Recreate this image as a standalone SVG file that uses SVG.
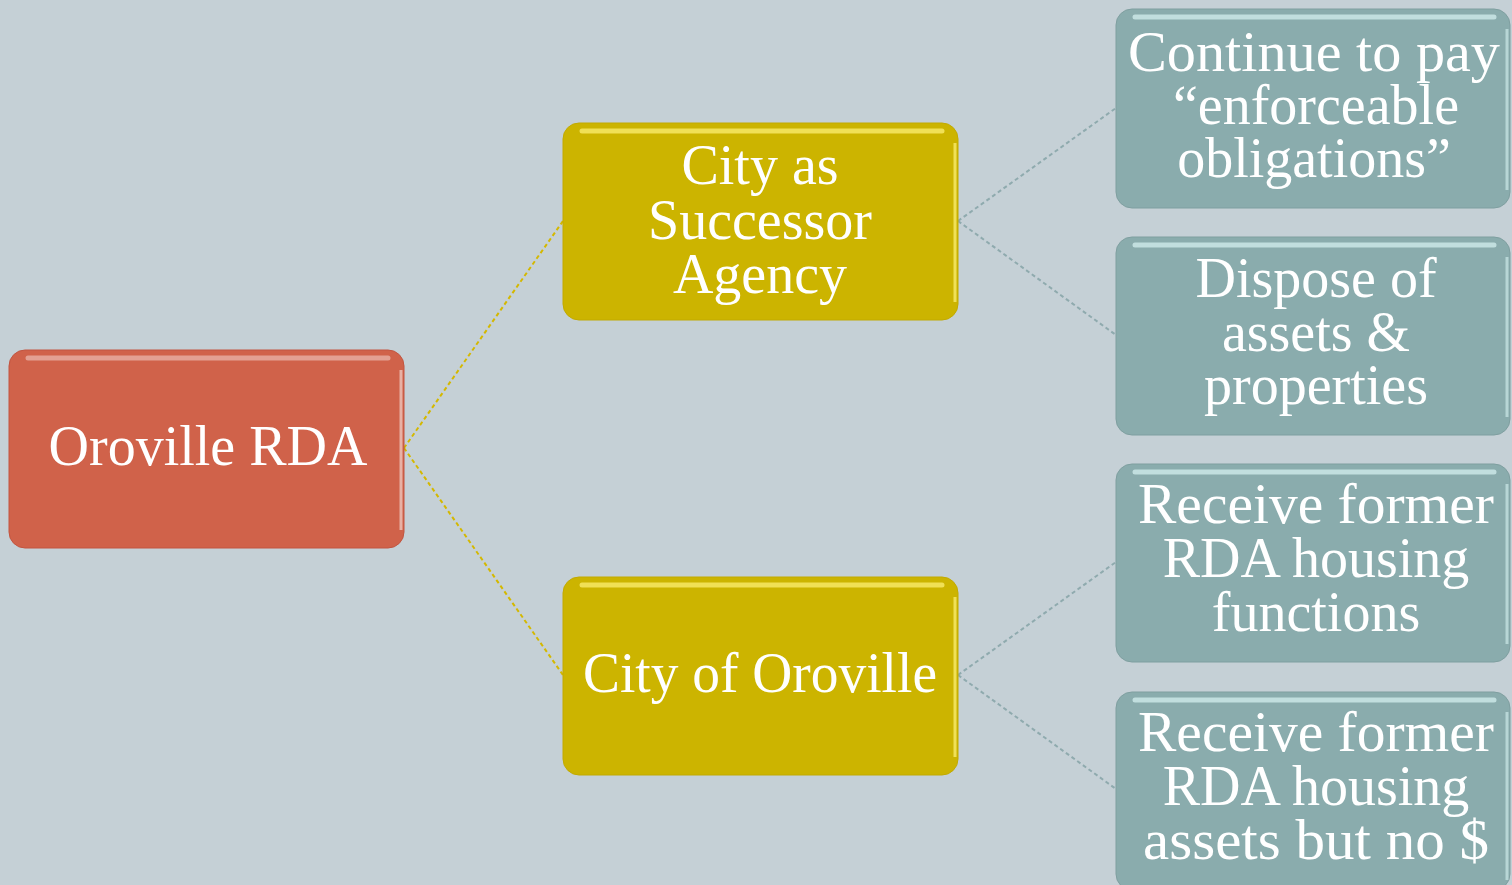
<svg xmlns="http://www.w3.org/2000/svg" width="1512" height="885" viewBox="0 0 1512 885">
<defs>
<style>
.t{font-family:"Liberation Serif","DejaVu Serif",serif;font-size:56px;fill:#ffffff;text-anchor:middle}
.cy{stroke:#D4B800;stroke-width:2;stroke-dasharray:4 3;fill:none}
.ct{stroke:#8FAAAE;stroke-width:2;stroke-dasharray:4 3;fill:none}
.hl{fill:none;stroke:#ffffff;stroke-opacity:0.4;stroke-width:5;stroke-linecap:round}
.ed{fill:none;stroke:#ffffff;stroke-opacity:0.5;stroke-width:3}
</style>
</defs>
<rect x="0" y="0" width="1512" height="885" fill="#C5D0D6"/>
<g id="connectors">
<path class="cy" d="M404 448 L563 221"/>
<path class="cy" d="M404 448 L563 675"/>
<path class="ct" d="M958 221 L1116 108"/>
<path class="ct" d="M958 221 L1116 335"/>
<path class="ct" d="M958 675 L1116 562"/>
<path class="ct" d="M958 675 L1116 789"/>
</g>
<g id="node-rda">
<rect x="9" y="350" width="395" height="198" rx="16" fill="#D0624A" stroke="#C25540" stroke-width="1"/>
<path class="hl" d="M28 358 H388"/>
<path class="ed" d="M401 370 V530"/>
<text class="t" x="208" y="465">Oroville RDA</text>
</g>
<g id="node-successor">
<rect x="563" y="123" width="395" height="197" rx="16" fill="#CCB400" stroke="#C2AA00" stroke-width="1"/>
<path class="hl" d="M582 131 H942" style="stroke:#FFF27A;stroke-opacity:0.7"/>
<path class="ed" d="M955 143 V302" style="stroke:#FFF27A;stroke-opacity:0.7"/>
<text class="t" x="760" y="184">City as</text>
<text class="t" x="760" y="239">Successor</text>
<text class="t" x="760" y="293">Agency</text>
</g>
<g id="node-city">
<rect x="563" y="577" width="395" height="198" rx="16" fill="#CCB400" stroke="#C2AA00" stroke-width="1"/>
<path class="hl" d="M582 585 H942" style="stroke:#FFF27A;stroke-opacity:0.7"/>
<path class="ed" d="M955 597 V757" style="stroke:#FFF27A;stroke-opacity:0.7"/>
<text class="t" x="760" y="692" textLength="354" lengthAdjust="spacingAndGlyphs">City of Oroville</text>
</g>
<g id="node-pay">
<rect x="1116" y="9" width="394" height="199" rx="16" fill="#8AACAD" stroke="#7F9FA0" stroke-width="1"/>
<path class="hl" d="M1135 17 H1494" style="stroke:#E6FFFF;stroke-opacity:0.6"/>
<path class="ed" d="M1507 29 V190" style="stroke:#E6FFFF;stroke-opacity:0.5"/>
<text class="t" x="1314" y="71" textLength="372" lengthAdjust="spacingAndGlyphs">Continue to pay</text>
<text class="t" x="1316" y="124">“enforceable</text>
<text class="t" x="1314" y="177">obligations”</text>
</g>
<g id="node-dispose">
<rect x="1116" y="237" width="394" height="198" rx="16" fill="#8AACAD" stroke="#7F9FA0" stroke-width="1"/>
<path class="hl" d="M1135 245 H1494" style="stroke:#E6FFFF;stroke-opacity:0.6"/>
<path class="ed" d="M1507 257 V417" style="stroke:#E6FFFF;stroke-opacity:0.5"/>
<text class="t" x="1316" y="297">Dispose of</text>
<text class="t" x="1316" y="351">assets &amp;</text>
<text class="t" x="1316" y="404">properties</text>
</g>
<g id="node-functions">
<rect x="1116" y="464" width="394" height="198" rx="16" fill="#8AACAD" stroke="#7F9FA0" stroke-width="1"/>
<path class="hl" d="M1135 472 H1494" style="stroke:#E6FFFF;stroke-opacity:0.6"/>
<path class="ed" d="M1507 484 V644" style="stroke:#E6FFFF;stroke-opacity:0.5"/>
<text class="t" x="1316" y="523" textLength="356" lengthAdjust="spacingAndGlyphs">Receive former</text>
<text class="t" x="1316" y="577">RDA housing</text>
<text class="t" x="1316" y="631">functions</text>
</g>
<g id="node-assets">
<rect x="1116" y="692" width="394" height="198" rx="16" fill="#8AACAD" stroke="#7F9FA0" stroke-width="1"/>
<path class="hl" d="M1135 700 H1494" style="stroke:#E6FFFF;stroke-opacity:0.6"/>
<path class="ed" d="M1507 712 V880" style="stroke:#E6FFFF;stroke-opacity:0.5"/>
<text class="t" x="1316" y="751" textLength="356" lengthAdjust="spacingAndGlyphs">Receive former</text>
<text class="t" x="1316" y="805">RDA housing</text>
<text class="t" x="1316" y="859" textLength="346" lengthAdjust="spacingAndGlyphs">assets but no $</text>
</g>
</svg>
